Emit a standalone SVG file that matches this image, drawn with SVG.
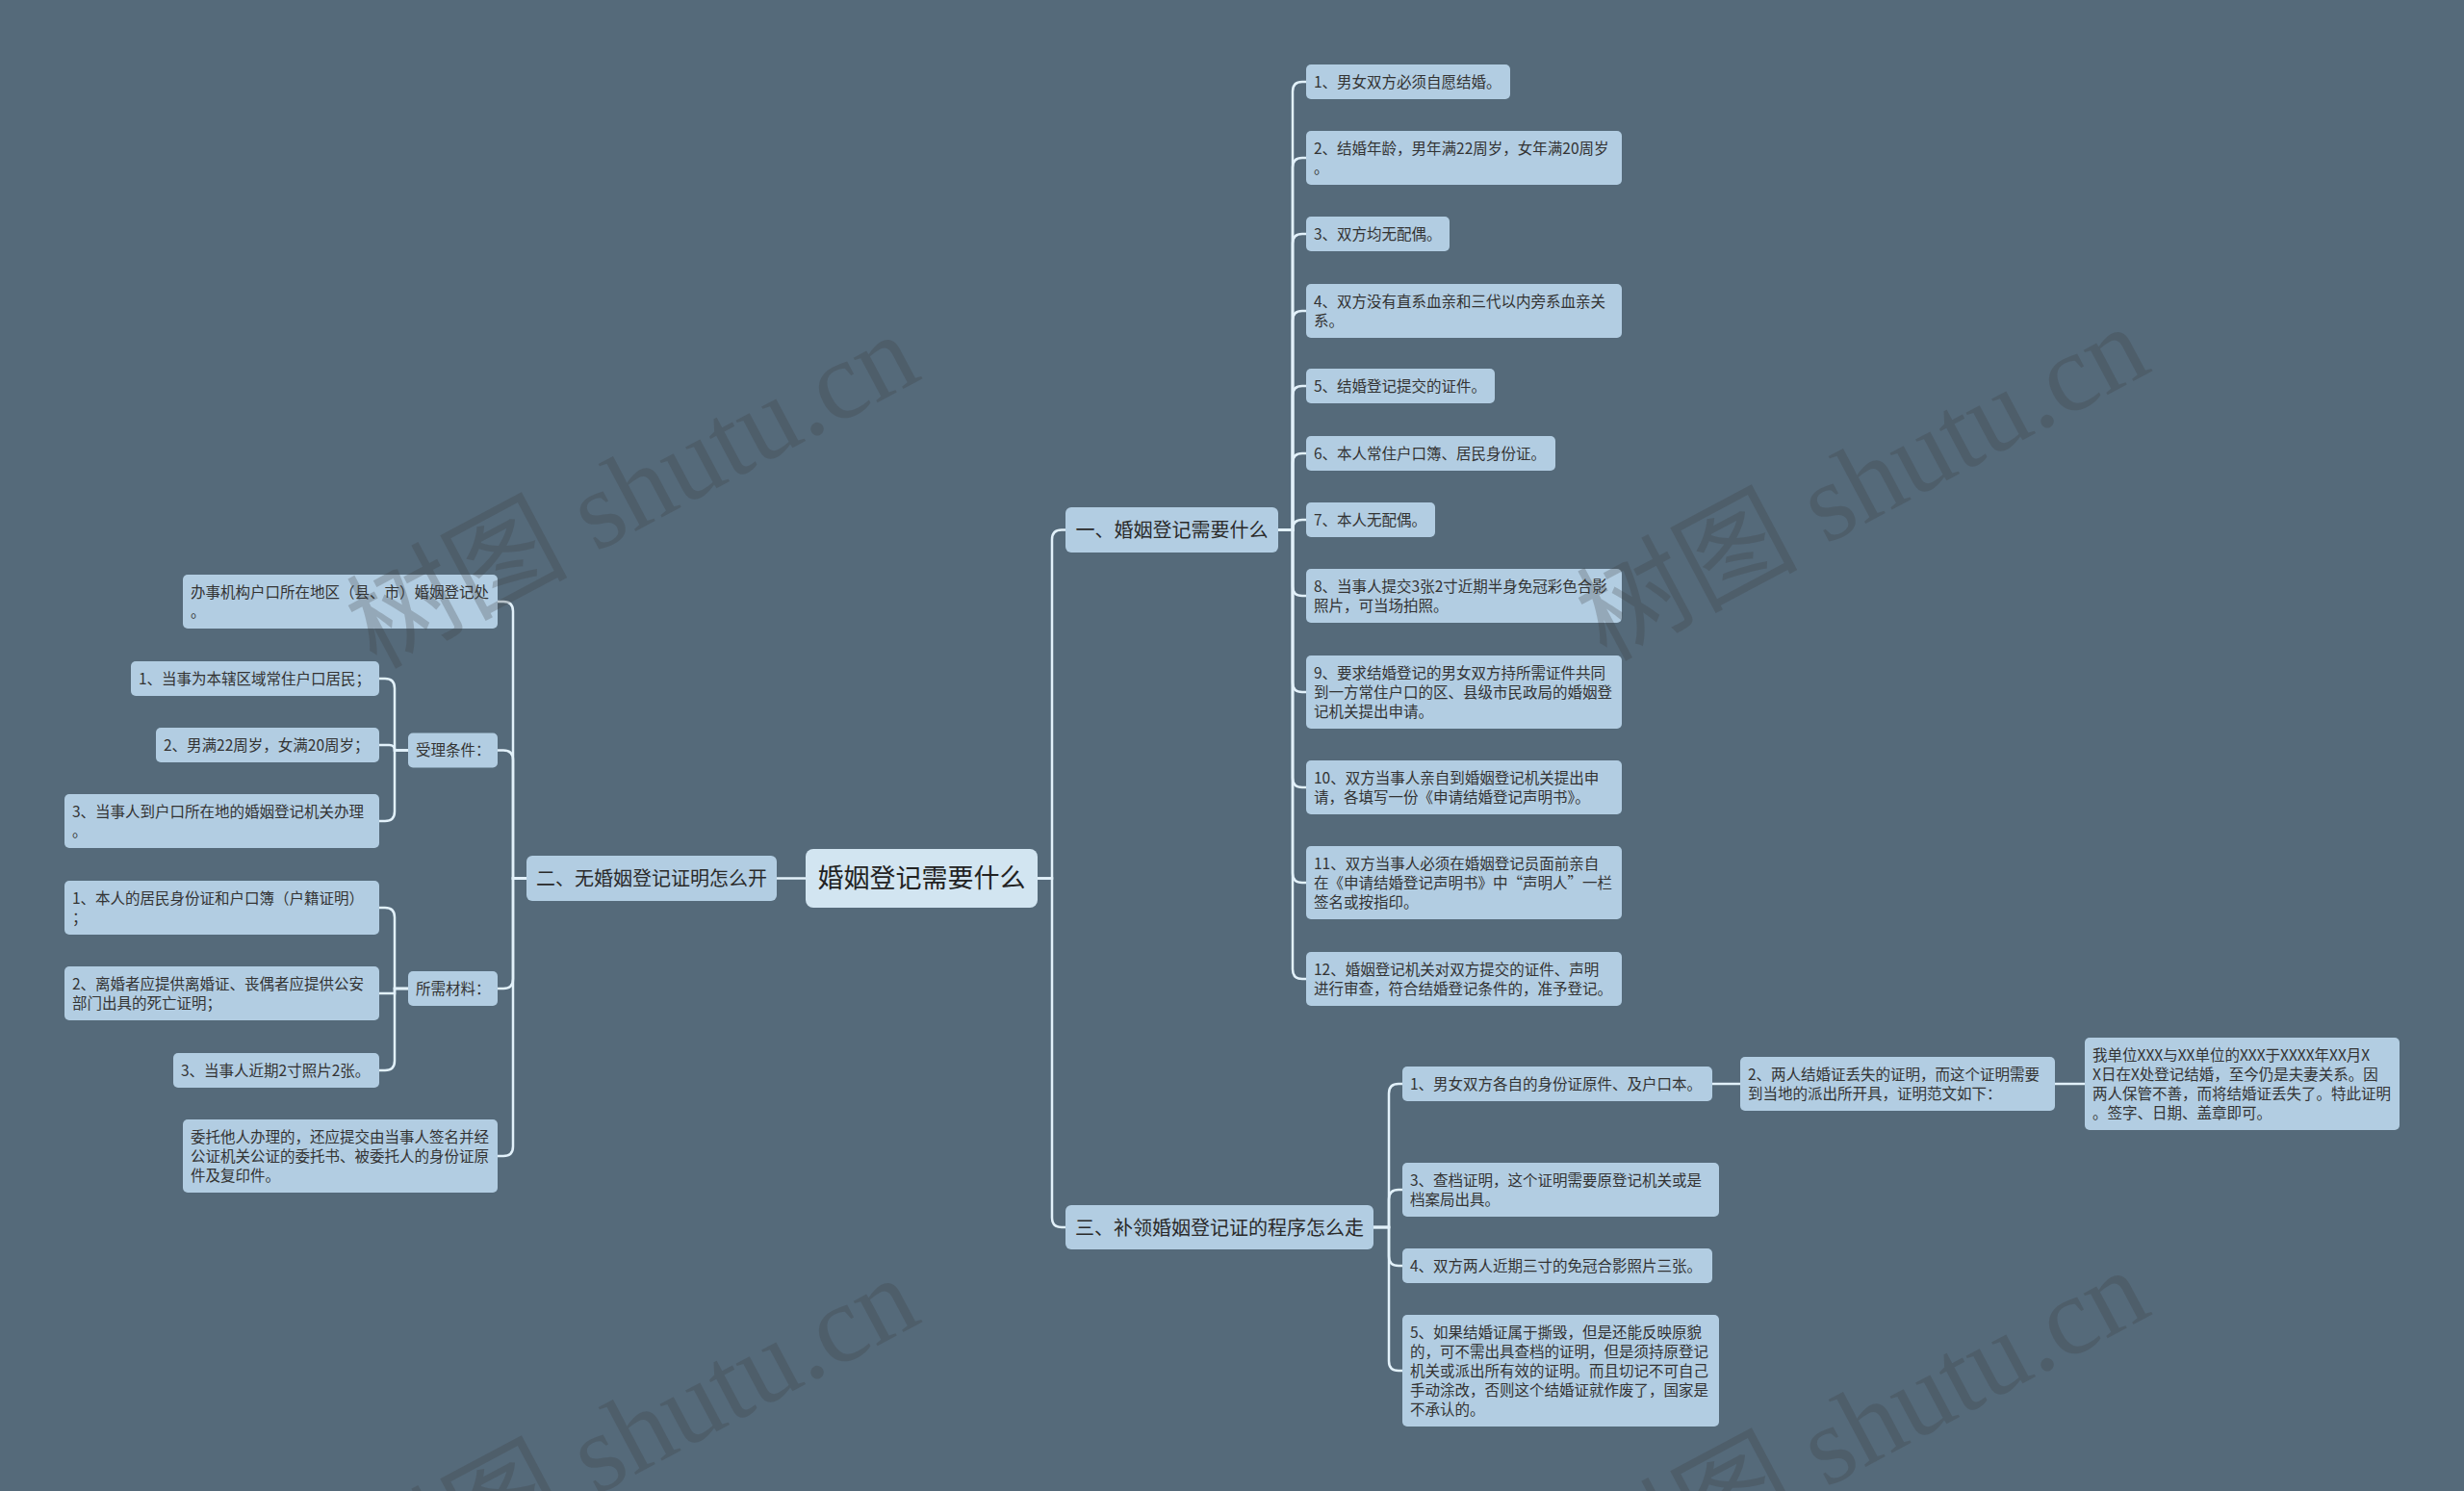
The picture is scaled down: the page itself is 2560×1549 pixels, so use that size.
<svg xmlns="http://www.w3.org/2000/svg" width="2560" height="1549" viewBox="0 0 2560 1549">
<style>
.bg{fill:#556a7a}
.n rect{fill:#b2cde2}
.n text{font-family:"Noto Sans CJK SC","Microsoft YaHei",sans-serif;font-size:15.5px;fill:#333}
.b rect{fill:#b2cde2}
.b text{font-family:"Noto Sans CJK SC","Microsoft YaHei",sans-serif;font-size:20px;fill:#2a2a2a;text-anchor:middle}
.c rect{fill:#d2e5f1}
.c text{font-family:"Noto Sans CJK SC","Microsoft YaHei",sans-serif;font-size:27px;fill:#222;text-anchor:middle}
#connectors path{fill:none;stroke:#e2f1fa;stroke-width:2.5}
.wm{font-family:"Liberation Serif","Noto Sans CJK SC",serif;font-size:115px;fill:#3c3c3c;fill-opacity:0.25;text-anchor:middle;dominant-baseline:central}
</style>
<rect class="bg" x="0" y="0" width="2560" height="1549"/>
<g id="connectors">
<path d="M1078,912.5 H1093 V560.5 Q1093,550.5 1103,550.5 H1107"/>
<path d="M1078,912.5 H1093 V1265 Q1093,1275 1103,1275 H1107"/>
<path d="M837,912.5 H807"/>
<path d="M1328,550.5 H1343 V95 Q1343,85 1353,85 H1357"/>
<path d="M1328,550.5 H1343 V174 Q1343,164 1353,164 H1357"/>
<path d="M1328,550.5 H1343 V253 Q1343,243 1353,243 H1357"/>
<path d="M1328,550.5 H1343 V333 Q1343,323 1353,323 H1357"/>
<path d="M1328,550.5 H1343 V411 Q1343,401 1353,401 H1357"/>
<path d="M1328,550.5 H1343 V481 Q1343,471 1353,471 H1357"/>
<path d="M1328,550.5 H1343 V550 Q1343,540 1353,540 H1357"/>
<path d="M1328,550.5 H1343 V609 Q1343,619 1353,619 H1357"/>
<path d="M1328,550.5 H1343 V709 Q1343,719 1353,719 H1357"/>
<path d="M1328,550.5 H1343 V808 Q1343,818 1353,818 H1357"/>
<path d="M1328,550.5 H1343 V907 Q1343,917 1353,917 H1357"/>
<path d="M1328,550.5 H1343 V1007 Q1343,1017 1353,1017 H1357"/>
<path d="M1427,1275 H1443 V1136 Q1443,1126 1453,1126 H1457"/>
<path d="M1427,1275 H1443 V1246 Q1443,1236 1453,1236 H1457"/>
<path d="M1427,1275 H1443 V1305 Q1443,1315 1453,1315 H1457"/>
<path d="M1427,1275 H1443 V1414 Q1443,1424 1453,1424 H1457"/>
<path d="M1779,1126 H1808"/>
<path d="M2135,1126 H2166"/>
<path d="M547,912.5 H533 V635 Q533,625 523,625 H517"/>
<path d="M547,912.5 H533 V789.5 Q533,779.5 523,779.5 H517"/>
<path d="M547,912.5 H533 V1017 Q533,1027 523,1027 H517"/>
<path d="M547,912.5 H533 V1191 Q533,1201 523,1201 H517"/>
<path d="M424,779.5 H410 V715 Q410,705 400,705 H394"/>
<path d="M424,779.5 H410 V779.5 Q410,774 404.5,774 H394"/>
<path d="M424,779.5 H410 V843 Q410,853 400,853 H394"/>
<path d="M424,1027 H410 V953 Q410,943 400,943 H394"/>
<path d="M424,1027 H410 V1032 Q410,1032 404,1032 H394"/>
<path d="M424,1027 H410 V1102 Q410,1112 400,1112 H394"/>
</g>
<g id="center" class="c"><rect x="837" y="882" width="241" height="61" rx="8"/><text x="957.5" y="922">婚姻登记需要什么</text></g>
<g id="b1" class="b"><rect x="1107" y="527" width="221" height="47" rx="6"/><text x="1217.5" y="558">一、婚姻登记需要什么</text></g>
<g id="b2" class="b"><rect x="547" y="889" width="260" height="47" rx="6"/><text x="677" y="920">二、无婚姻登记证明怎么开</text></g>
<g id="b3" class="b"><rect x="1107" y="1252" width="320" height="46" rx="6"/><text x="1267" y="1283">三、补领婚姻登记证的程序怎么走</text></g>
<g id="r1" class="n"><rect x="1357" y="67" width="212" height="36" rx="5"/><text x="1365" y="90.5">1、男女双方必须自愿结婚。</text></g>
<g id="r2" class="n"><rect x="1357" y="136" width="328" height="56" rx="5"/><text x="1365" y="159.5">2、结婚年龄，男年满22周岁，女年满20周岁</text><text x="1365" y="179.5">。</text></g>
<g id="r3" class="n"><rect x="1357" y="225" width="149" height="36" rx="5"/><text x="1365" y="248.5">3、双方均无配偶。</text></g>
<g id="r4" class="n"><rect x="1357" y="295" width="328" height="56" rx="5"/><text x="1365" y="318.5">4、双方没有直系血亲和三代以内旁系血亲关</text><text x="1365" y="338.5">系。</text></g>
<g id="r5" class="n"><rect x="1357" y="383" width="196" height="36" rx="5"/><text x="1365" y="406.5">5、结婚登记提交的证件。</text></g>
<g id="r6" class="n"><rect x="1357" y="453" width="259" height="36" rx="5"/><text x="1365" y="476.5">6、本人常住户口簿、居民身份证。</text></g>
<g id="r7" class="n"><rect x="1357" y="522" width="134" height="36" rx="5"/><text x="1365" y="545.5">7、本人无配偶。</text></g>
<g id="r8" class="n"><rect x="1357" y="591" width="328" height="56" rx="5"/><text x="1365" y="614.5">8、当事人提交3张2寸近期半身免冠彩色合影</text><text x="1365" y="634.5">照片，可当场拍照。</text></g>
<g id="r9" class="n"><rect x="1357" y="681" width="328" height="76" rx="5"/><text x="1365" y="704.5">9、要求结婚登记的男女双方持所需证件共同</text><text x="1365" y="724.5">到一方常住户口的区、县级市民政局的婚姻登</text><text x="1365" y="744.5">记机关提出申请。</text></g>
<g id="r10" class="n"><rect x="1357" y="790" width="328" height="56" rx="5"/><text x="1365" y="813.5">10、双方当事人亲自到婚姻登记机关提出申</text><text x="1365" y="833.5">请，各填写一份《申请结婚登记声明书》。</text></g>
<g id="r11" class="n"><rect x="1357" y="879" width="328" height="76" rx="5"/><text x="1365" y="902.5">11、双方当事人必须在婚姻登记员面前亲自</text><text x="1365" y="922.5">在《申请结婚登记声明书》中“声明人”一栏</text><text x="1365" y="942.5">签名或按指印。</text></g>
<g id="r12" class="n"><rect x="1357" y="989" width="328" height="56" rx="5"/><text x="1365" y="1012.5">12、婚姻登记机关对双方提交的证件、声明</text><text x="1365" y="1032.5">进行审查，符合结婚登记条件的，准予登记。</text></g>
<g id="t1" class="n"><rect x="1457" y="1108" width="322" height="36" rx="5"/><text x="1465" y="1131.5">1、男女双方各自的身份证原件、及户口本。</text></g>
<g id="t2" class="n"><rect x="1808" y="1098" width="327" height="56" rx="5"/><text x="1816" y="1121.5">2、两人结婚证丢失的证明，而这个证明需要</text><text x="1816" y="1141.5">到当地的派出所开具，证明范文如下：</text></g>
<g id="t2a" class="n"><rect x="2166" y="1078" width="327" height="96" rx="5"/><text x="2174" y="1101.5">我单位XXX与XX单位的XXX于XXXX年XX月X</text><text x="2174" y="1121.5">X日在X处登记结婚，至今仍是夫妻关系。因</text><text x="2174" y="1141.5">两人保管不善，而将结婚证丢失了。特此证明</text><text x="2174" y="1161.5">。签字、日期、盖章即可。</text></g>
<g id="t3" class="n"><rect x="1457" y="1208" width="329" height="56" rx="5"/><text x="1465" y="1231.5">3、查档证明，这个证明需要原登记机关或是</text><text x="1465" y="1251.5">档案局出具。</text></g>
<g id="t4" class="n"><rect x="1457" y="1297" width="322" height="36" rx="5"/><text x="1465" y="1320.5">4、双方两人近期三寸的免冠合影照片三张。</text></g>
<g id="t5" class="n"><rect x="1457" y="1366" width="329" height="116" rx="5"/><text x="1465" y="1389.5">5、如果结婚证属于撕毁，但是还能反映原貌</text><text x="1465" y="1409.5">的，可不需出具查档的证明，但是须持原登记</text><text x="1465" y="1429.5">机关或派出所有效的证明。而且切记不可自己</text><text x="1465" y="1449.5">手动涂改，否则这个结婚证就作废了，国家是</text><text x="1465" y="1469.5">不承认的。</text></g>
<g id="l1" class="n"><rect x="190" y="597" width="327" height="56" rx="5"/><text x="198" y="620.5">办事机构户口所在地区（县、市）婚姻登记处</text><text x="198" y="640.5">。</text></g>
<g id="l2" class="n"><rect x="424" y="761.5" width="93" height="36" rx="5"/><text x="432" y="785">受理条件：</text></g>
<g id="l2a" class="n"><rect x="136" y="687" width="258" height="36" rx="5"/><text x="144" y="710.5">1、当事为本辖区域常住户口居民；</text></g>
<g id="l2b" class="n"><rect x="162" y="756" width="232" height="36" rx="5"/><text x="170" y="779.5">2、男满22周岁，女满20周岁；</text></g>
<g id="l2c" class="n"><rect x="67" y="825" width="327" height="56" rx="5"/><text x="75" y="848.5">3、当事人到户口所在地的婚姻登记机关办理</text><text x="75" y="868.5">。</text></g>
<g id="l3" class="n"><rect x="424" y="1009" width="93" height="36" rx="5"/><text x="432" y="1032.5">所需材料：</text></g>
<g id="l3a" class="n"><rect x="67" y="915" width="327" height="56" rx="5"/><text x="75" y="938.5">1、本人的居民身份证和户口簿（户籍证明）</text><text x="75" y="958.5">；</text></g>
<g id="l3b" class="n"><rect x="67" y="1004" width="327" height="56" rx="5"/><text x="75" y="1027.5">2、离婚者应提供离婚证、丧偶者应提供公安</text><text x="75" y="1047.5">部门出具的死亡证明；</text></g>
<g id="l3c" class="n"><rect x="180" y="1094" width="214" height="36" rx="5"/><text x="188" y="1117.5">3、当事人近期2寸照片2张。</text></g>
<g id="l4" class="n"><rect x="190" y="1163" width="327" height="76" rx="5"/><text x="198" y="1186.5">委托他人办理的，还应提交由当事人签名并经</text><text x="198" y="1206.5">公证机关公证的委托书、被委托人的身份证原</text><text x="198" y="1226.5">件及复印件。</text></g>
<g id="watermark">
<text class="wm" transform="translate(657,510) rotate(-28)">树图 shutu.cn</text>
<text class="wm" transform="translate(1935,502) rotate(-28)">树图 shutu.cn</text>
<text class="wm" transform="translate(657,1490) rotate(-28)">树图 shutu.cn</text>
<text class="wm" transform="translate(1935,1482) rotate(-28)">树图 shutu.cn</text>
</g>
</svg>
